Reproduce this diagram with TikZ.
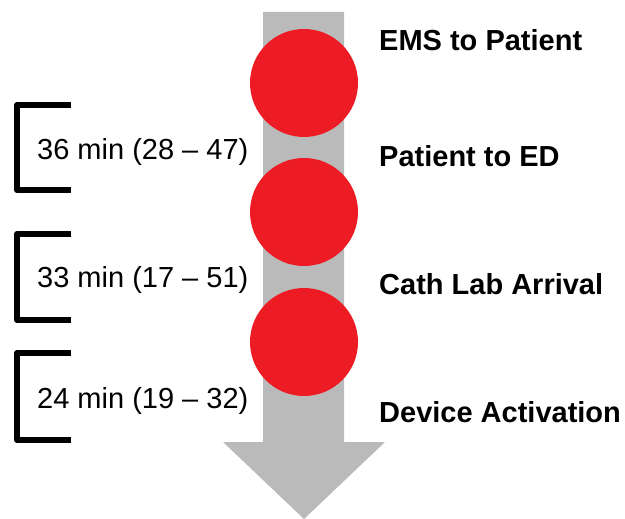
\documentclass[tikz,border=0pt]{standalone}
\usepackage{fontspec}
\setmainfont{Liberation Sans}
\definecolor{shaftgray}{HTML}{BABABA}
\definecolor{dotred}{HTML}{ED1C24}
\tikzset{
  milestone/.style={anchor=base west,inner sep=0pt,font=\fontsize{29bp}{35bp}\selectfont\bfseries},
  interval/.style={anchor=base west,inner sep=0pt,font=\fontsize{29bp}{35bp}\selectfont},
  bracket/.style={line width=6bp,line join=round}
}
\begin{document}
\begin{tikzpicture}[x=1bp,y=-1bp]
  \useasboundingbox (0,0) rectangle (625,519);
  % timeline arrow
  \fill[shaftgray] (263,12) -- (344,12) -- (344,442) -- (385,442) -- (304,519)
    -- (223,442) -- (263,442) -- cycle;
  \foreach \y [count=\i] in {83,212,342}
    \fill[dotred] (304,\y) circle [radius=54];
  % milestones
  \foreach \txt [count=\i] in {EMS to Patient,Patient to ED,Cath Lab Arrival,Device Activation} {
    \pgfmathsetmacro{\base}{{51,167,294,422}[\i-1]}
    \node[milestone] (step\i) at (379,\base) {\txt};
  }
  % intervals
  \foreach \top/\bot/\base/\txt [count=\i] in {105/190/160/{36 min (28 -- 47)},
      234/320/287/{33 min (17 -- 51)},353/440/408/{24 min (19 -- 32)}} {
    \draw[bracket] (71,\top) -- (17,\top) -- (17,\bot) -- (71,\bot);
    \node[interval] (gap\i) at (37,\base) {\txt};
  }
\end{tikzpicture}
\end{document}
